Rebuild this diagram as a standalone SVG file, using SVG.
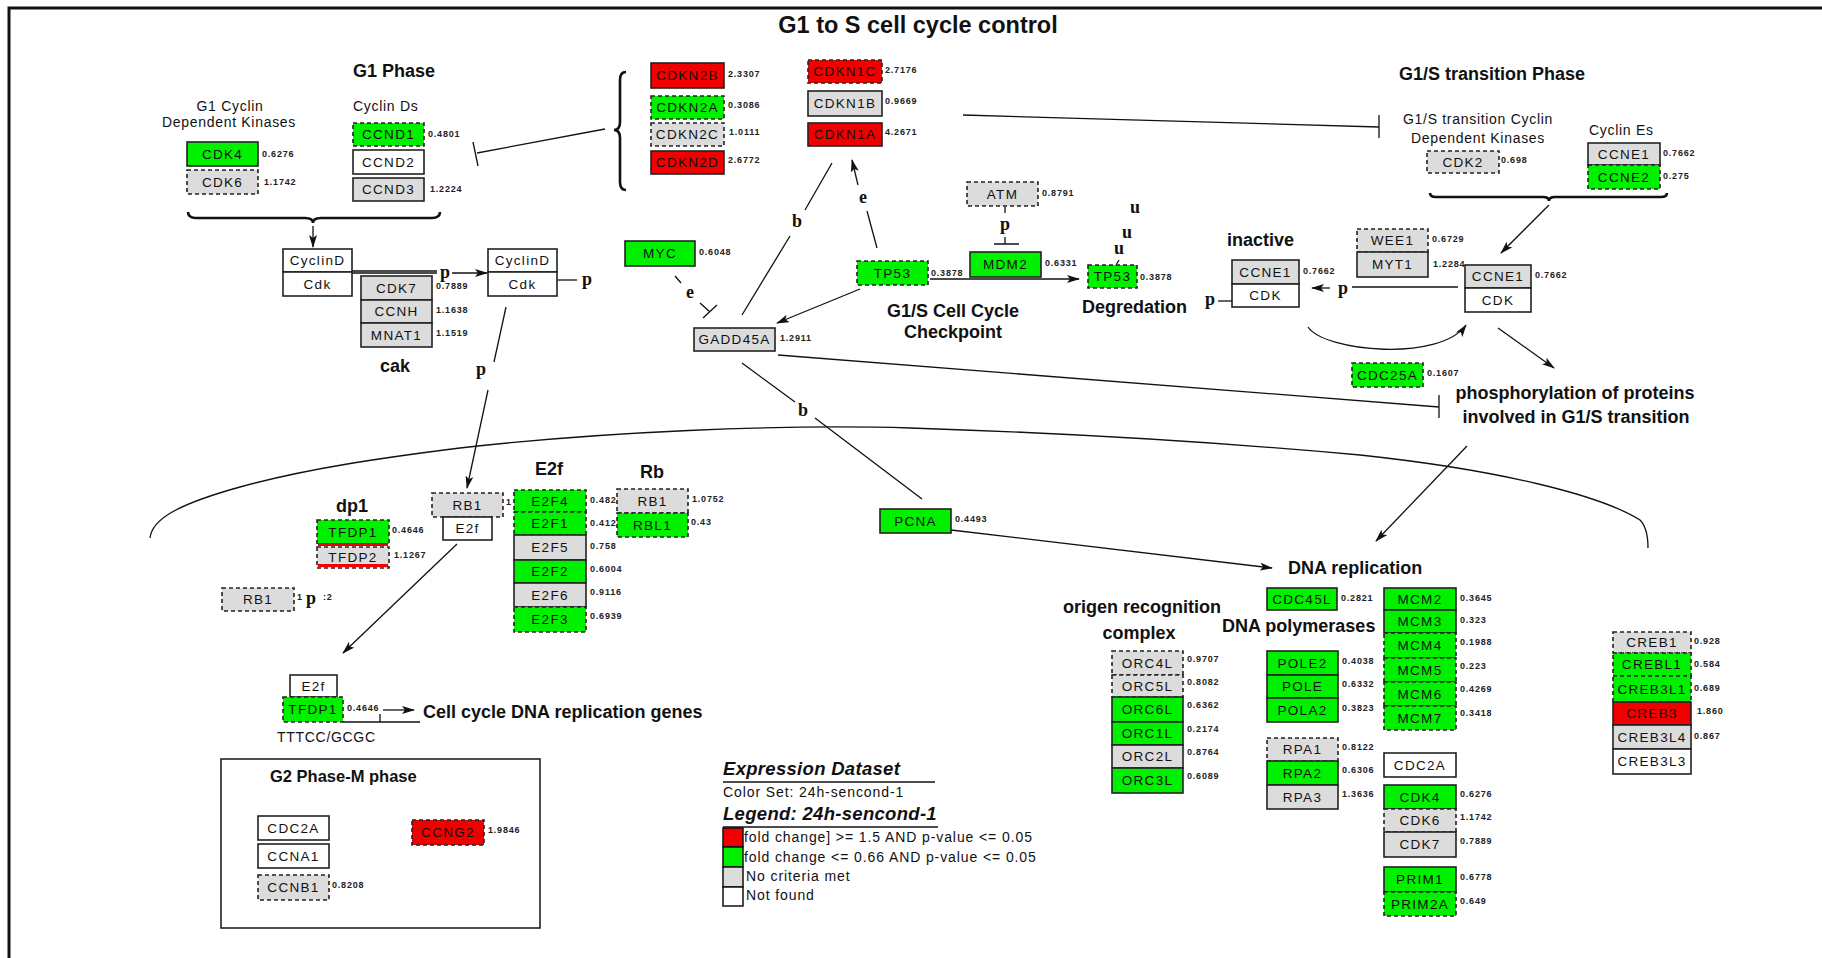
<svg xmlns="http://www.w3.org/2000/svg" width="1822" height="958" viewBox="0 0 1822 958">
<style>
.bx{stroke:#222;stroke-width:1.6}
.d{stroke-dasharray:4 3}
.G{fill:#00f000}
.R{fill:#f00000}
.N{fill:#dcdcdc}
.W{fill:#fff}
.t{font-family:"Liberation Sans",Arial,sans-serif;font-size:13.5px;letter-spacing:1.3px;text-anchor:middle;fill:#111}
.v{font-family:"Liberation Sans",Arial,sans-serif;font-size:9px;font-weight:bold;letter-spacing:0.8px;fill:#222}
.h{font-family:"Liberation Sans",Arial,sans-serif;font-size:18px;font-weight:bold;fill:#111}
.n{font-family:"Liberation Sans",Arial,sans-serif;font-size:14px;letter-spacing:0.7px;fill:#111}
.m{text-anchor:middle}
.s{font-family:"Liberation Serif","Times New Roman",serif;font-size:18px;font-weight:bold;fill:#111;text-anchor:middle}
.ln{stroke:#111;stroke-width:1.3;fill:none}
.br{stroke:#111;stroke-width:2.6;fill:none}
.ar{marker-end:url(#ah)}
.lg{font-family:"Liberation Sans",Arial,sans-serif;font-size:14px;letter-spacing:0.9px;fill:#111}
.li{font-family:"Liberation Sans",Arial,sans-serif;font-size:18.5px;letter-spacing:0.3px;font-weight:bold;font-style:italic;fill:#111}
</style>
<defs>
<marker id="ah" markerWidth="13" markerHeight="8" refX="12" refY="4" orient="auto" markerUnits="userSpaceOnUse">
<path d="M0,0 L13,4 L0,8 L3,4 Z" fill="#111"/>
</marker>
</defs>
<rect width="1822" height="958" fill="#fff"/>
<path d="M9,958 V8 H1822" fill="none" stroke="#111" stroke-width="3"/>

<text x="918" y="33" class="h m" style="font-size:23.5px">G1 to S cell cycle control</text>

<!-- headings -->
<g id="labels">
<text x="353" y="77" class="h">G1 Phase</text>
<text x="230" y="111" class="n m">G1 Cyclin</text>
<text x="229" y="127" class="n m">Dependent Kinases</text>
<text x="353" y="111" class="n">Cyclin Ds</text>
<text x="380" y="372" class="h">cak</text>
<text x="953" y="317" class="h m">G1/S Cell Cycle</text>
<text x="953" y="338" class="h m">Checkpoint</text>
<text x="1082" y="313" class="h">Degredation</text>
<text x="1227" y="246" class="h">inactive</text>
<text x="1399" y="80" class="h">G1/S transition Phase</text>
<text x="1478" y="124" class="n m">G1/S transition Cyclin</text>
<text x="1478" y="143" class="n m">Dependent Kinases</text>
<text x="1589" y="135" class="n">Cyclin Es</text>
<text x="1575" y="399" class="h m">phosphorylation of proteins</text>
<text x="1576" y="423" class="h m">involved in G1/S transition</text>
<text x="336" y="512" class="h">dp1</text>
<text x="535" y="475" class="h">E2f</text>
<text x="640" y="478" class="h">Rb</text>
<text x="1288" y="574" class="h">DNA replication</text>
<text x="1142" y="613" class="h m">origen recognition</text>
<text x="1139" y="639" class="h m">complex</text>
<text x="1222" y="632" class="h">DNA polymerases</text>
<text x="423" y="718" class="h">Cell cycle DNA replication genes</text>
<text x="277" y="742" class="n">TTTCC/GCGC</text>
</g>

<!-- connectors -->
<g id="connectors">
<path class="br" d="M188,212 Q188,218 196,218 L305,218 Q313,218 313,223 Q313,218 321,218 L432,218 Q440,218 440,212"/>
<path class="br" d="M626,72 Q620,72 620,80 L620,122 Q620,130 614,130 Q620,130 620,138 L620,182 Q620,190 626,190"/>
<path class="br" d="M1430,193 Q1430,197 1436,197 L1543,197 Q1549,197 1549,201 Q1549,197 1555,197 L1661,197 Q1667,197 1667,193"/>
<path class="ln ar" d="M313,226 V247"/>
<path class="ln" d="M352,271 H437 M352,273 H437"/>
<path class="ln ar" d="M452,273 H487"/>
<path class="ln" d="M557,280 H577"/>
<path class="ln" d="M506,307 L494,362"/>
<path class="ln ar" d="M488,390 L467,488"/>
<path class="ln" d="M605,129 L477,153 M473,142 L478,166"/>
<path class="ln" d="M963,115 L1379,127 M1379,115 V138"/>
<path class="ln" d="M742,315 L790,236 M805,210 L832,163"/>
<path class="ln" d="M877,248 L867,211"/>
<path class="ln ar" d="M858,185 L852,160"/>
<path class="ln" d="M675,276 L681,283 M700,303 L710,312 M703,318 L717,305"/>
<path class="ln ar" d="M860,289 L777,323"/>
<path class="ln" d="M1005,207 V213 M1005,237 V244 M994,244 H1019"/>
<path class="ln ar" d="M930,279 H1079"/>
<path class="ln" d="M1116,265 L1119,260"/>
<path class="ln" d="M1218,301 H1232"/>
<path class="ln ar" d="M1330,288 H1312"/>
<path class="ln" d="M1352,287 H1458"/>
<path class="ln ar" d="M1549,205 L1501,253"/>
<path class="ln ar" d="M1308,327 C1325,352 1440,362 1466,325"/>
<path class="ln ar" d="M1498,328 L1554,368"/>
<path class="ln" d="M778,355 L1439,407 M1439,395 V418"/>
<path class="ln" d="M742,363 L795,402 M815,418 L922,499"/>
<path class="ln ar" d="M951,530 L1272,568"/>
<path class="ln ar" d="M1467,446 L1376,541"/>
<path class="ln ar" d="M457,544 L343,653"/>
<path class="ln" d="M343,722 H420 M380,722 V714"/>
<path class="ln ar" d="M383,710 H414"/>
<path class="ln" d="M150,538 C152,520 175,505 240,487 S380,458 460,448 C600,432 780,424 910,428 C1100,434 1250,445 1360,455 C1500,470 1600,495 1640,520 Q1648,528 1648,548"/>
<text x="445" y="278" class="s">p</text>
<text x="587" y="285" class="s">p</text>
<text x="481" y="375" class="s">p</text>
<text x="797" y="227" class="s">b</text>
<text x="863" y="203" class="s">e</text>
<text x="690" y="298" class="s">e</text>
<text x="1005" y="230" class="s">p</text>
<text x="1135" y="213" class="s">u</text>
<text x="1127" y="238" class="s">u</text>
<text x="1119" y="254" class="s">u</text>
<text x="1210" y="305" class="s">p</text>
<text x="1343" y="294" class="s">p</text>
<text x="803" y="416" class="s">b</text>
</g>

<!-- G1 phase -->
<g id="CDK4-a"><rect x="187" y="142" width="71" height="24" class="bx G"/><text x="222.5" y="158.5" class="t">CDK4</text><text x="262" y="157" class="v">0.6276</text></g>
<g id="CDK6-a"><rect x="187" y="170" width="71" height="24" class="bx N d"/><text x="222.5" y="186.5" class="t">CDK6</text><text x="264" y="185" class="v">1.1742</text></g>
<g id="CCND1"><rect x="353" y="123" width="71" height="23" class="bx G d"/><text x="388.5" y="139" class="t">CCND1</text><text x="428" y="137" class="v">0.4801</text></g>
<g id="CCND2"><rect x="353" y="150" width="71" height="24" class="bx W"/><text x="388.5" y="166.5" class="t">CCND2</text></g>
<g id="CCND3"><rect x="353" y="178" width="71" height="23" class="bx N"/><text x="388.5" y="194" class="t">CCND3</text><text x="430" y="192" class="v">1.2224</text></g>
<g id="CyclinD-Cdk-1"><rect x="283" y="249" width="69" height="23" class="bx W"/><rect x="283" y="272" width="69" height="24" class="bx W"/><text x="317.5" y="265" class="t">CyclinD</text><text x="317.5" y="288.5" class="t">Cdk</text></g>
<g id="CDK7-a"><rect x="361" y="276" width="71" height="24" class="bx N"/><text x="396.5" y="292.5" class="t">CDK7</text><text x="436" y="289" class="v">0.7889</text></g>
<g id="CCNH"><rect x="361" y="300" width="71" height="23" class="bx N"/><text x="396.5" y="316" class="t">CCNH</text><text x="436" y="313" class="v">1.1638</text></g>
<g id="MNAT1"><rect x="361" y="323" width="71" height="24" class="bx N"/><text x="396.5" y="339.5" class="t">MNAT1</text><text x="436" y="336" class="v">1.1519</text></g>
<g id="CyclinD-Cdk-2"><rect x="488" y="249" width="69" height="23" class="bx W"/><rect x="488" y="272" width="69" height="24" class="bx W"/><text x="522.5" y="265" class="t">CyclinD</text><text x="522.5" y="288.5" class="t">Cdk</text></g>

<!-- CDK inhibitors -->
<g id="CDKN2B"><rect x="651" y="63" width="73" height="25" class="bx R"/><text x="687.5" y="80" class="t">CDKN2B</text><text x="728" y="77" class="v">2.3307</text></g>
<g id="CDKN2A"><rect x="651" y="96" width="73" height="23" class="bx G d"/><text x="687.5" y="112" class="t">CDKN2A</text><text x="728" y="108" class="v">0.3086</text></g>
<g id="CDKN2C"><rect x="651" y="123" width="73" height="23" class="bx N d"/><text x="687.5" y="139" class="t">CDKN2C</text><text x="729" y="135" class="v">1.0111</text></g>
<g id="CDKN2D"><rect x="651" y="151" width="73" height="23" class="bx R"/><text x="687.5" y="167" class="t">CDKN2D</text><text x="728" y="163" class="v">2.6772</text></g>
<g id="CDKN1C"><rect x="808" y="60" width="74" height="23" class="bx R d"/><text x="845" y="76" class="t">CDKN1C</text><text x="885" y="73" class="v">2.7176</text></g>
<g id="CDKN1B"><rect x="808" y="91" width="74" height="25" class="bx N"/><text x="845" y="108" class="t">CDKN1B</text><text x="885" y="104" class="v">0.9669</text></g>
<g id="CDKN1A"><rect x="808" y="123" width="74" height="23" class="bx R"/><text x="845" y="139" class="t">CDKN1A</text><text x="885" y="135" class="v">4.2671</text></g>

<!-- checkpoint -->
<g id="MYC"><rect x="625" y="241" width="70" height="25" class="bx G"/><text x="660" y="258" class="t">MYC</text><text x="699" y="255" class="v">0.6048</text></g>
<g id="GADD45A"><rect x="694" y="328" width="81" height="23" class="bx N"/><text x="734.5" y="344" class="t">GADD45A</text><text x="780" y="341" class="v">1.2911</text></g>
<g id="TP53-a"><rect x="857" y="261" width="71" height="24" class="bx G d"/><text x="892.5" y="277.5" class="t">TP53</text><text x="931" y="276" class="v">0.3878</text></g>
<g id="ATM"><rect x="967" y="182" width="71" height="24" class="bx N d"/><text x="1002.5" y="198.5" class="t">ATM</text><text x="1042" y="196" class="v">0.8791</text></g>
<g id="MDM2"><rect x="970" y="252" width="71" height="25" class="bx G"/><text x="1005.5" y="269" class="t">MDM2</text><text x="1045" y="266" class="v">0.6331</text></g>
<g id="TP53-b"><rect x="1088" y="265" width="49" height="23" class="bx G d"/><text x="1112.5" y="281" class="t">TP53</text><text x="1140" y="280" class="v">0.3878</text></g>

<!-- G1/S transition -->
<g id="CDK2"><rect x="1427" y="151" width="72" height="22" class="bx N d"/><text x="1463" y="166.5" class="t">CDK2</text><text x="1501" y="163" class="v">0.698</text></g>
<g id="CCNE1-a"><rect x="1588" y="143" width="72" height="22" class="bx N"/><text x="1624" y="158.5" class="t">CCNE1</text><text x="1663" y="156" class="v">0.7662</text></g>
<g id="CCNE2"><rect x="1588" y="165" width="72" height="24" class="bx G d"/><text x="1624" y="181.5" class="t">CCNE2</text><text x="1663" y="179" class="v">0.275</text></g>
<g id="WEE1"><rect x="1357" y="229" width="71" height="23" class="bx N d"/><text x="1392.5" y="245" class="t">WEE1</text><text x="1432" y="242" class="v">0.6729</text></g>
<g id="MYT1"><rect x="1357" y="252" width="71" height="25" class="bx N"/><text x="1392.5" y="269" class="t">MYT1</text><text x="1433" y="267" class="v">1.2284</text></g>
<g id="CCNE1-CDK-inactive"><rect x="1232" y="260" width="67" height="24" class="bx N"/><rect x="1232" y="284" width="67" height="23" class="bx W"/><text x="1265.5" y="276.5" class="t">CCNE1</text><text x="1265.5" y="300" class="t">CDK</text><text x="1303" y="274" class="v">0.7662</text></g>
<g id="CCNE1-CDK-active"><rect x="1465" y="265" width="66" height="23" class="bx N"/><rect x="1465" y="288" width="66" height="24" class="bx W"/><text x="1498" y="281" class="t">CCNE1</text><text x="1498" y="304.5" class="t">CDK</text><text x="1535" y="278" class="v">0.7662</text></g>
<g id="CDC25A"><rect x="1352" y="363" width="71" height="24" class="bx G d"/><text x="1387.5" y="379.5" class="t">CDC25A</text><text x="1427" y="376" class="v">0.1607</text></g>

<!-- dp1 / E2f / Rb -->
<g id="TFDP1-a"><rect x="317" y="520" width="72" height="24" class="bx G d"/><rect x="318" y="543" width="70" height="3" fill="#f00000"/><text x="353" y="536.5" class="t">TFDP1</text><text x="392" y="533" class="v">0.4646</text></g>
<g id="TFDP2"><rect x="317" y="547" width="72" height="21" class="bx N d"/><rect x="318" y="564" width="70" height="3" fill="#f00000"/><text x="353" y="562" class="t">TFDP2</text><text x="394" y="558" class="v">1.1267</text></g>
<g id="RB1-a"><rect x="222" y="588" width="72" height="23" class="bx N d"/><text x="258" y="604" class="t">RB1</text><text x="297" y="600" class="v">1</text><text x="311" y="604" class="s">p</text><text x="323" y="600" class="v">:2</text></g>
<g id="RB1-E2f"><rect x="432" y="493" width="71" height="24" class="bx N d"/><rect x="443" y="517" width="49" height="23" class="bx W"/><text x="467.5" y="509.5" class="t">RB1</text><text x="467.5" y="533" class="t">E2f</text><text x="506" y="505" class="v">1</text></g>
<g id="E2F4"><rect x="514" y="490" width="72" height="22" class="bx G d"/><text x="550" y="505.5" class="t">E2F4</text><text x="590" y="503" class="v">0.4822</text></g>
<g id="E2F1"><rect x="514" y="512" width="72" height="23" class="bx G d"/><text x="550" y="528" class="t">E2F1</text><text x="590" y="526" class="v">0.412</text></g>
<g id="E2F5"><rect x="514" y="535" width="72" height="25" class="bx N"/><text x="550" y="552" class="t">E2F5</text><text x="590" y="549" class="v">0.758</text></g>
<g id="E2F2"><rect x="514" y="560" width="72" height="23" class="bx G"/><text x="550" y="576" class="t">E2F2</text><text x="590" y="572" class="v">0.6004</text></g>
<g id="E2F6"><rect x="514" y="583" width="72" height="24" class="bx N"/><text x="550" y="599.5" class="t">E2F6</text><text x="590" y="595" class="v">0.9116</text></g>
<g id="E2F3"><rect x="514" y="607" width="72" height="25" class="bx G d"/><text x="550" y="624" class="t">E2F3</text><text x="590" y="619" class="v">0.6939</text></g>
<g id="RB1-c"><rect x="617" y="489" width="71" height="24" class="bx N d"/><text x="652.5" y="505.5" class="t">RB1</text><text x="692" y="502" class="v">1.0752</text></g>
<g id="RBL1"><rect x="617" y="513" width="71" height="24" class="bx G d"/><text x="652.5" y="529.5" class="t">RBL1</text><text x="691" y="525" class="v">0.43</text></g>
<g id="PCNA"><rect x="880" y="509" width="71" height="24" class="bx G"/><text x="915.5" y="525.5" class="t">PCNA</text><text x="955" y="522" class="v">0.4493</text></g>
<g id="E2f-TFDP1"><rect x="290" y="675" width="47" height="22" class="bx W"/><rect x="283" y="697" width="60" height="25" class="bx G d"/><text x="313.5" y="690.5" class="t">E2f</text><text x="313" y="714" class="t">TFDP1</text><text x="347" y="711" class="v">0.4646</text></g>

<!-- G2-M -->
<g id="G2-M-phase">
<rect x="221" y="759" width="319" height="169" fill="none" stroke="#222" stroke-width="1.6"/>
<text x="270" y="782" class="h" style="font-size:16.5px">G2 Phase-M phase</text>
</g>
<g id="CDC2A-a"><rect x="258" y="816" width="71" height="24" class="bx W"/><text x="293.5" y="832.5" class="t">CDC2A</text></g>
<g id="CCNA1"><rect x="258" y="844" width="71" height="24" class="bx W"/><text x="293.5" y="860.5" class="t">CCNA1</text></g>
<g id="CCNB1"><rect x="258" y="875" width="71" height="25" class="bx N d"/><text x="293.5" y="892" class="t">CCNB1</text><text x="332" y="888" class="v">0.8208</text></g>
<g id="CCNG2"><rect x="412" y="820" width="72" height="25" class="bx R d"/><text x="448" y="837" class="t">CCNG2</text><text x="488" y="833" class="v">1.9846</text></g>

<!-- DNA replication -->
<g id="CDC45L"><rect x="1267" y="588" width="70" height="22" class="bx G"/><text x="1302" y="603.5" class="t">CDC45L</text><text x="1341" y="601" class="v">0.2821</text></g>
<g id="MCM2"><rect x="1384" y="588" width="72" height="22" class="bx G"/><text x="1420" y="603.5" class="t">MCM2</text><text x="1460" y="601" class="v">0.3645</text></g>
<g id="MCM3"><rect x="1384" y="610" width="72" height="23" class="bx G"/><text x="1420" y="626" class="t">MCM3</text><text x="1460" y="623" class="v">0.323</text></g>
<g id="MCM4"><rect x="1384" y="633" width="72" height="25" class="bx G d"/><text x="1420" y="650" class="t">MCM4</text><text x="1460" y="645" class="v">0.1988</text></g>
<g id="MCM5"><rect x="1384" y="658" width="72" height="24" class="bx G d"/><text x="1420" y="674.5" class="t">MCM5</text><text x="1460" y="669" class="v">0.223</text></g>
<g id="MCM6"><rect x="1384" y="682" width="72" height="24" class="bx G d"/><text x="1420" y="698.5" class="t">MCM6</text><text x="1460" y="692" class="v">0.4269</text></g>
<g id="MCM7"><rect x="1384" y="706" width="72" height="24" class="bx G d"/><text x="1420" y="722.5" class="t">MCM7</text><text x="1460" y="716" class="v">0.3418</text></g>
<g id="ORC4L"><rect x="1112" y="651" width="71" height="24" class="bx N d"/><text x="1147.5" y="667.5" class="t">ORC4L</text><text x="1187" y="662" class="v">0.9707</text></g>
<g id="ORC5L"><rect x="1112" y="675" width="71" height="22" class="bx N d"/><text x="1147.5" y="690.5" class="t">ORC5L</text><text x="1187" y="685" class="v">0.8082</text></g>
<g id="ORC6L"><rect x="1112" y="697" width="71" height="25" class="bx G"/><text x="1147.5" y="714" class="t">ORC6L</text><text x="1187" y="708" class="v">0.6362</text></g>
<g id="ORC1L"><rect x="1112" y="722" width="71" height="23" class="bx G"/><text x="1147.5" y="738" class="t">ORC1L</text><text x="1187" y="732" class="v">0.2174</text></g>
<g id="ORC2L"><rect x="1112" y="745" width="71" height="23" class="bx N"/><text x="1147.5" y="761" class="t">ORC2L</text><text x="1187" y="755" class="v">0.8764</text></g>
<g id="ORC3L"><rect x="1112" y="768" width="71" height="25" class="bx G"/><text x="1147.5" y="785" class="t">ORC3L</text><text x="1187" y="779" class="v">0.6089</text></g>
<g id="POLE2"><rect x="1267" y="651" width="71" height="24" class="bx G"/><text x="1302.5" y="667.5" class="t">POLE2</text><text x="1342" y="664" class="v">0.4038</text></g>
<g id="POLE"><rect x="1267" y="675" width="71" height="23" class="bx G"/><text x="1302.5" y="691" class="t">POLE</text><text x="1342" y="687" class="v">0.6332</text></g>
<g id="POLA2"><rect x="1267" y="698" width="71" height="24" class="bx G"/><text x="1302.5" y="714.5" class="t">POLA2</text><text x="1342" y="711" class="v">0.3823</text></g>
<g id="RPA1"><rect x="1267" y="738" width="71" height="23" class="bx N d"/><text x="1302.5" y="754" class="t">RPA1</text><text x="1342" y="750" class="v">0.8122</text></g>
<g id="RPA2"><rect x="1267" y="761" width="71" height="24" class="bx G"/><text x="1302.5" y="777.5" class="t">RPA2</text><text x="1342" y="773" class="v">0.6306</text></g>
<g id="RPA3"><rect x="1267" y="785" width="71" height="24" class="bx N"/><text x="1302.5" y="801.5" class="t">RPA3</text><text x="1342" y="797" class="v">1.3636</text></g>
<g id="CDC2A-b"><rect x="1384" y="753" width="72" height="24" class="bx W"/><text x="1420" y="769.5" class="t">CDC2A</text></g>
<g id="CDK4-b"><rect x="1384" y="785" width="72" height="24" class="bx G"/><text x="1420" y="801.5" class="t">CDK4</text><text x="1460" y="797" class="v">0.6276</text></g>
<g id="CDK6-b"><rect x="1384" y="809" width="72" height="23" class="bx N d"/><text x="1420" y="825" class="t">CDK6</text><text x="1460" y="820" class="v">1.1742</text></g>
<g id="CDK7-b"><rect x="1384" y="832" width="72" height="25" class="bx N"/><text x="1420" y="849" class="t">CDK7</text><text x="1460" y="844" class="v">0.7889</text></g>
<g id="PRIM1"><rect x="1384" y="867" width="72" height="25" class="bx G"/><text x="1420" y="884" class="t">PRIM1</text><text x="1460" y="880" class="v">0.6778</text></g>
<g id="PRIM2A"><rect x="1384" y="892" width="72" height="24" class="bx G d"/><text x="1420" y="908.5" class="t">PRIM2A</text><text x="1460" y="904" class="v">0.649</text></g>

<!-- CREB -->
<g id="CREB1"><rect x="1613" y="632" width="78" height="21" class="bx N d"/><text x="1652" y="647" class="t">CREB1</text><text x="1694" y="644" class="v">0.928</text></g>
<g id="CREBL1"><rect x="1613" y="653" width="78" height="23" class="bx G d"/><text x="1652" y="669" class="t">CREBL1</text><text x="1694" y="667" class="v">0.584</text></g>
<g id="CREB3L1"><rect x="1613" y="676" width="78" height="26" class="bx G d"/><text x="1652" y="693.5" class="t">CREB3L1</text><text x="1694" y="691" class="v">0.689</text></g>
<g id="CREB3"><rect x="1613" y="702" width="78" height="23" class="bx R"/><text x="1652" y="718" class="t">CREB3</text><text x="1697" y="714" class="v">1.860</text></g>
<g id="CREB3L4"><rect x="1613" y="725" width="78" height="24" class="bx N"/><text x="1652" y="741.5" class="t">CREB3L4</text><text x="1694" y="739" class="v">0.867</text></g>
<g id="CREB3L3"><rect x="1613" y="749" width="78" height="25" class="bx W"/><text x="1652" y="766" class="t">CREB3L3</text></g>

<!-- legend -->
<g id="legend">
<text x="723" y="775" class="li">Expression Dataset</text>
<line x1="723" y1="782" x2="935" y2="782" stroke="#111" stroke-width="1.5"/>
<text x="723" y="797" class="lg">Color Set: 24h-sencond-1</text>
<text x="723" y="820" class="li">Legend: 24h-sencond-1</text>
<line x1="723" y1="827" x2="938" y2="827" stroke="#111" stroke-width="1.5"/>
<rect x="723" y="828" width="20" height="19" fill="#f00000" stroke="#111" stroke-width="1.5"/>
<rect x="723" y="847" width="20" height="20" fill="#00f000" stroke="#111" stroke-width="1.5"/>
<rect x="723" y="867" width="20" height="20" fill="#dcdcdc" stroke="#111" stroke-width="1.5"/>
<rect x="723" y="887" width="20" height="19" fill="#fff" stroke="#111" stroke-width="1.5"/>
<text x="744" y="842" class="lg">fold change] &gt;= 1.5 AND p-value &lt;= 0.05</text>
<text x="744" y="862" class="lg">fold change &lt;= 0.66 AND p-value &lt;= 0.05</text>
<text x="746" y="881" class="lg">No criteria met</text>
<text x="746" y="900" class="lg">Not found</text>
</g>
</svg>
